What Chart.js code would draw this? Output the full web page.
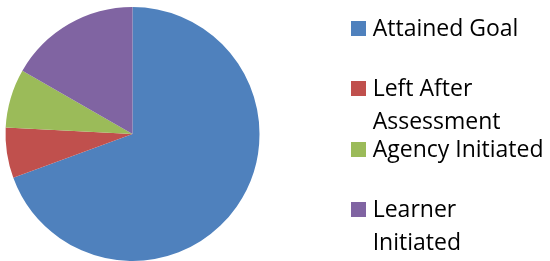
<!DOCTYPE html>
<html>
<head>
<meta charset="utf-8">
<script src="https://cdn.jsdelivr.net/npm/chart.js@4/dist/chart.umd.min.js"></script>
<style>
  html, body { margin: 0; padding: 0; background: #ffffff; }
  #wrap { position: relative; width: 550px; height: 261px; overflow: hidden; }
  #c { position: absolute; left: 0; top: 0; }
  #legend { position: absolute; left: 0; top: 0; width: 550px; height: 261px; margin: 0; padding: 0; list-style: none;
            font-family: "Open Sans", sans-serif; font-size: 23px; color: #000; }
  #legend li { position: absolute; left: 351px; white-space: nowrap; }
  #legend .box { position: absolute; left: 0; top: 10px; width: 15px; height: 15px; }
  #legend .txt { position: absolute; left: 21.7px; top: 0; line-height: 32.5px; }
</style>
</head>
<body>
<div id="wrap">
  <canvas id="c" width="550" height="261"></canvas>
  <ul id="legend"></ul>
</div>
<script>
const categories = [["Attained Goal"], ["Left After", "Assessment"], ["Agency Initiated"], ["Learner", "Initiated"]];
const values = [69.4, 6.4, 7.5, 16.7];
const colors = ["#4F81BD", "#C0504D", "#9BBB59", "#8064A2"];

const htmlLegend = {
  id: "htmlLegend",
  afterUpdate(chart) {
    const ul = document.getElementById("legend");
    ul.innerHTML = "";
    const items = chart.options.plugins.legend.labels.generateLabels(chart);
    items.forEach((item, i) => {
      const li = document.createElement("li");
      li.style.top = (10.5 + i * 60.5) + "px";
      const box = document.createElement("span");
      box.className = "box";
      box.style.background = item.fillStyle;
      const txt = document.createElement("span");
      txt.className = "txt";
      const lines = Array.isArray(item.text) ? item.text : [item.text];
      txt.innerHTML = lines.map(l => l.replace(/&/g, "&amp;").replace(/</g, "&lt;")).join("<br>");
      li.appendChild(box);
      li.appendChild(txt);
      ul.appendChild(li);
    });
  }
};

new Chart(document.getElementById("c"), {
  type: "pie",
  data: {
    labels: categories,
    datasets: [{
      data: values,
      backgroundColor: colors,
      borderWidth: 0,
      radius: 127
    }]
  },
  options: {
    responsive: false,
    animation: false,
    layout: { padding: { left: 0, right: 285, top: 7, bottom: 0 } },
    plugins: {
      legend: { display: false },
      tooltip: { enabled: false }
    }
  },
  plugins: [htmlLegend]
});
</script>
</body>
</html>
